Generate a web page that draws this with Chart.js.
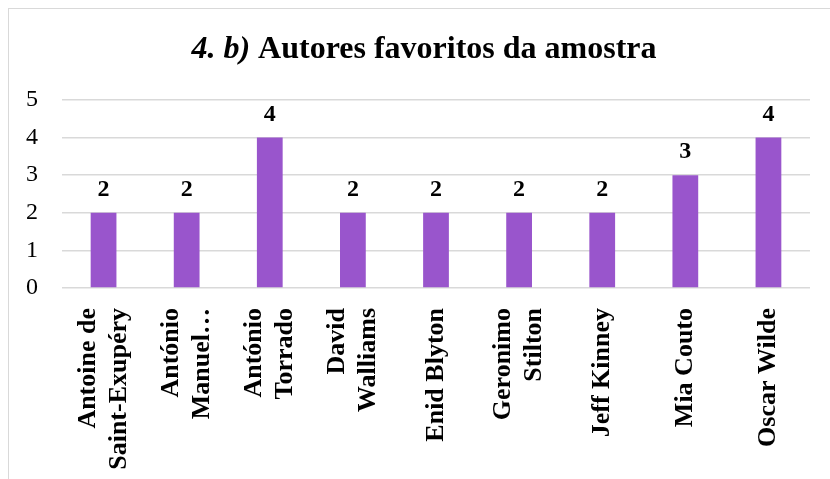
<!DOCTYPE html>
<html>
<head>
<meta charset="utf-8">
<script src="https://cdn.jsdelivr.net/npm/chart.js@4/dist/chart.umd.min.js"></script>
<style>
  html, body { margin: 0; padding: 0; background: #fff; }
  #wrap { position: relative; width: 830px; height: 479px; }
  #frame { position: absolute; left: 8px; top: 8px; right: -2px; bottom: -2px;
           border-top: 1px solid #d9d9d9; border-left: 1px solid #d9d9d9; pointer-events: none; }
</style>
</head>
<body>
<div id="wrap">
  <canvas id="c" width="830" height="479"></canvas>
  <div id="frame"></div>
</div>
<script>
// chart data
const authors = [
  ["Antoine de", "Saint-Exupéry"],
  ["António", "Manuel…"],
  ["António", "Torrado"],
  ["David", "Walliams"],
  ["Enid Blyton"],
  ["Geronimo", "Stilton"],
  ["Jeff Kinney"],
  ["Mia Couto"],
  ["Oscar Wilde"],
];
const votes = [2, 2, 4, 2, 2, 2, 2, 3, 4];
const yTicks = [0, 1, 2, 3, 4, 5];
const titleItalic = "4. b) ";
const titleBold = "Autores favoritos da amostra";

const serif = "'Liberation Serif', 'Times New Roman', serif";
const labelSize = 26;
const labelLine = 1.2;

// title with an italic prefix, drawn by hand
const titlePlugin = {
  id: "mixedTitle",
  afterDraw(chart) {
    const ctx = chart.ctx;
    ctx.save();
    ctx.fillStyle = "#000";
    ctx.textBaseline = "alphabetic";
    ctx.font = "italic bold 32px " + serif;
    const w1 = ctx.measureText(titleItalic).width;
    ctx.font = "bold 32px " + serif;
    const w2 = ctx.measureText(titleBold).width;
    let x = 424 - (w1 + w2) / 2;
    ctx.font = "italic bold 32px " + serif;
    ctx.fillText(titleItalic, x, 58);
    ctx.font = "bold 32px " + serif;
    ctx.fillText(titleBold, x + w1, 58);
    ctx.restore();
  },
};

// center multi-line rotated labels on their tick
const centerLabels = {
  id: "centerLabels",
  beforeDraw(chart) {
    const items = chart.scales.x.getLabelItems();
    items.forEach((it) => {
      if (it._centered) return;
      const n = Array.isArray(it.label) ? it.label.length : 1;
      it.textOffset -= (n - 1) * labelSize * labelLine / 2;
      it._centered = true;
    });
  },
};

// value labels above the bars
const valuePlugin = {
  id: "values",
  afterDatasetsDraw(chart) {
    const ctx = chart.ctx;
    const meta = chart.getDatasetMeta(0);
    ctx.save();
    ctx.font = "bold 24px " + serif;
    ctx.fillStyle = "#000";
    ctx.textAlign = "center";
    ctx.textBaseline = "alphabetic";
    meta.data.forEach((bar, i) => {
      ctx.fillText(String(votes[i]), bar.x, bar.y - 17);
    });
    ctx.restore();
  },
};

new Chart(document.getElementById("c"), {
  type: "bar",
  data: {
    labels: authors,
    datasets: [{
      data: votes,
      backgroundColor: "#9955cc",
      borderWidth: 0,
      barPercentage: 0.31,
      categoryPercentage: 1,
    }],
  },
  options: {
    responsive: false,
    animation: false,
    layout: { padding: { top: 100, left: 26, right: 20, bottom: 0 } },
    plugins: { legend: { display: false }, title: { display: false }, tooltip: { enabled: false } },
    scales: {
      x: {
        grid: { display: false },
        border: { display: false },
        afterFit(scale) {
          scale.paddingLeft = 0;
          scale.paddingRight = 0;
          scale.getPadding = () => ({ left: 0, right: 0, top: 0, bottom: 0 });
          scale.height = 191;
        },
        ticks: {
          autoSkip: false,
          minRotation: 90,
          maxRotation: 90,
          padding: 12,
          color: "#000",
          font: { family: serif, size: labelSize, weight: "bold", lineHeight: labelLine },
        },
      },
      y: {
        min: 0,
        max: 5,
        afterBuildTicks(axis) { axis.ticks = yTicks.map((v) => ({ value: v })); },
        afterFit(scale) { scale.width = 36; },
        grid: { color: "#d9d9d9", lineWidth: 1.5, drawTicks: false },
        border: { display: false },
        ticks: {
          padding: 24,
          color: "#000",
          font: { family: serif, size: 24 },
        },
      },
    },
  },
  plugins: [titlePlugin, centerLabels, valuePlugin],
});
</script>
</body>
</html>
